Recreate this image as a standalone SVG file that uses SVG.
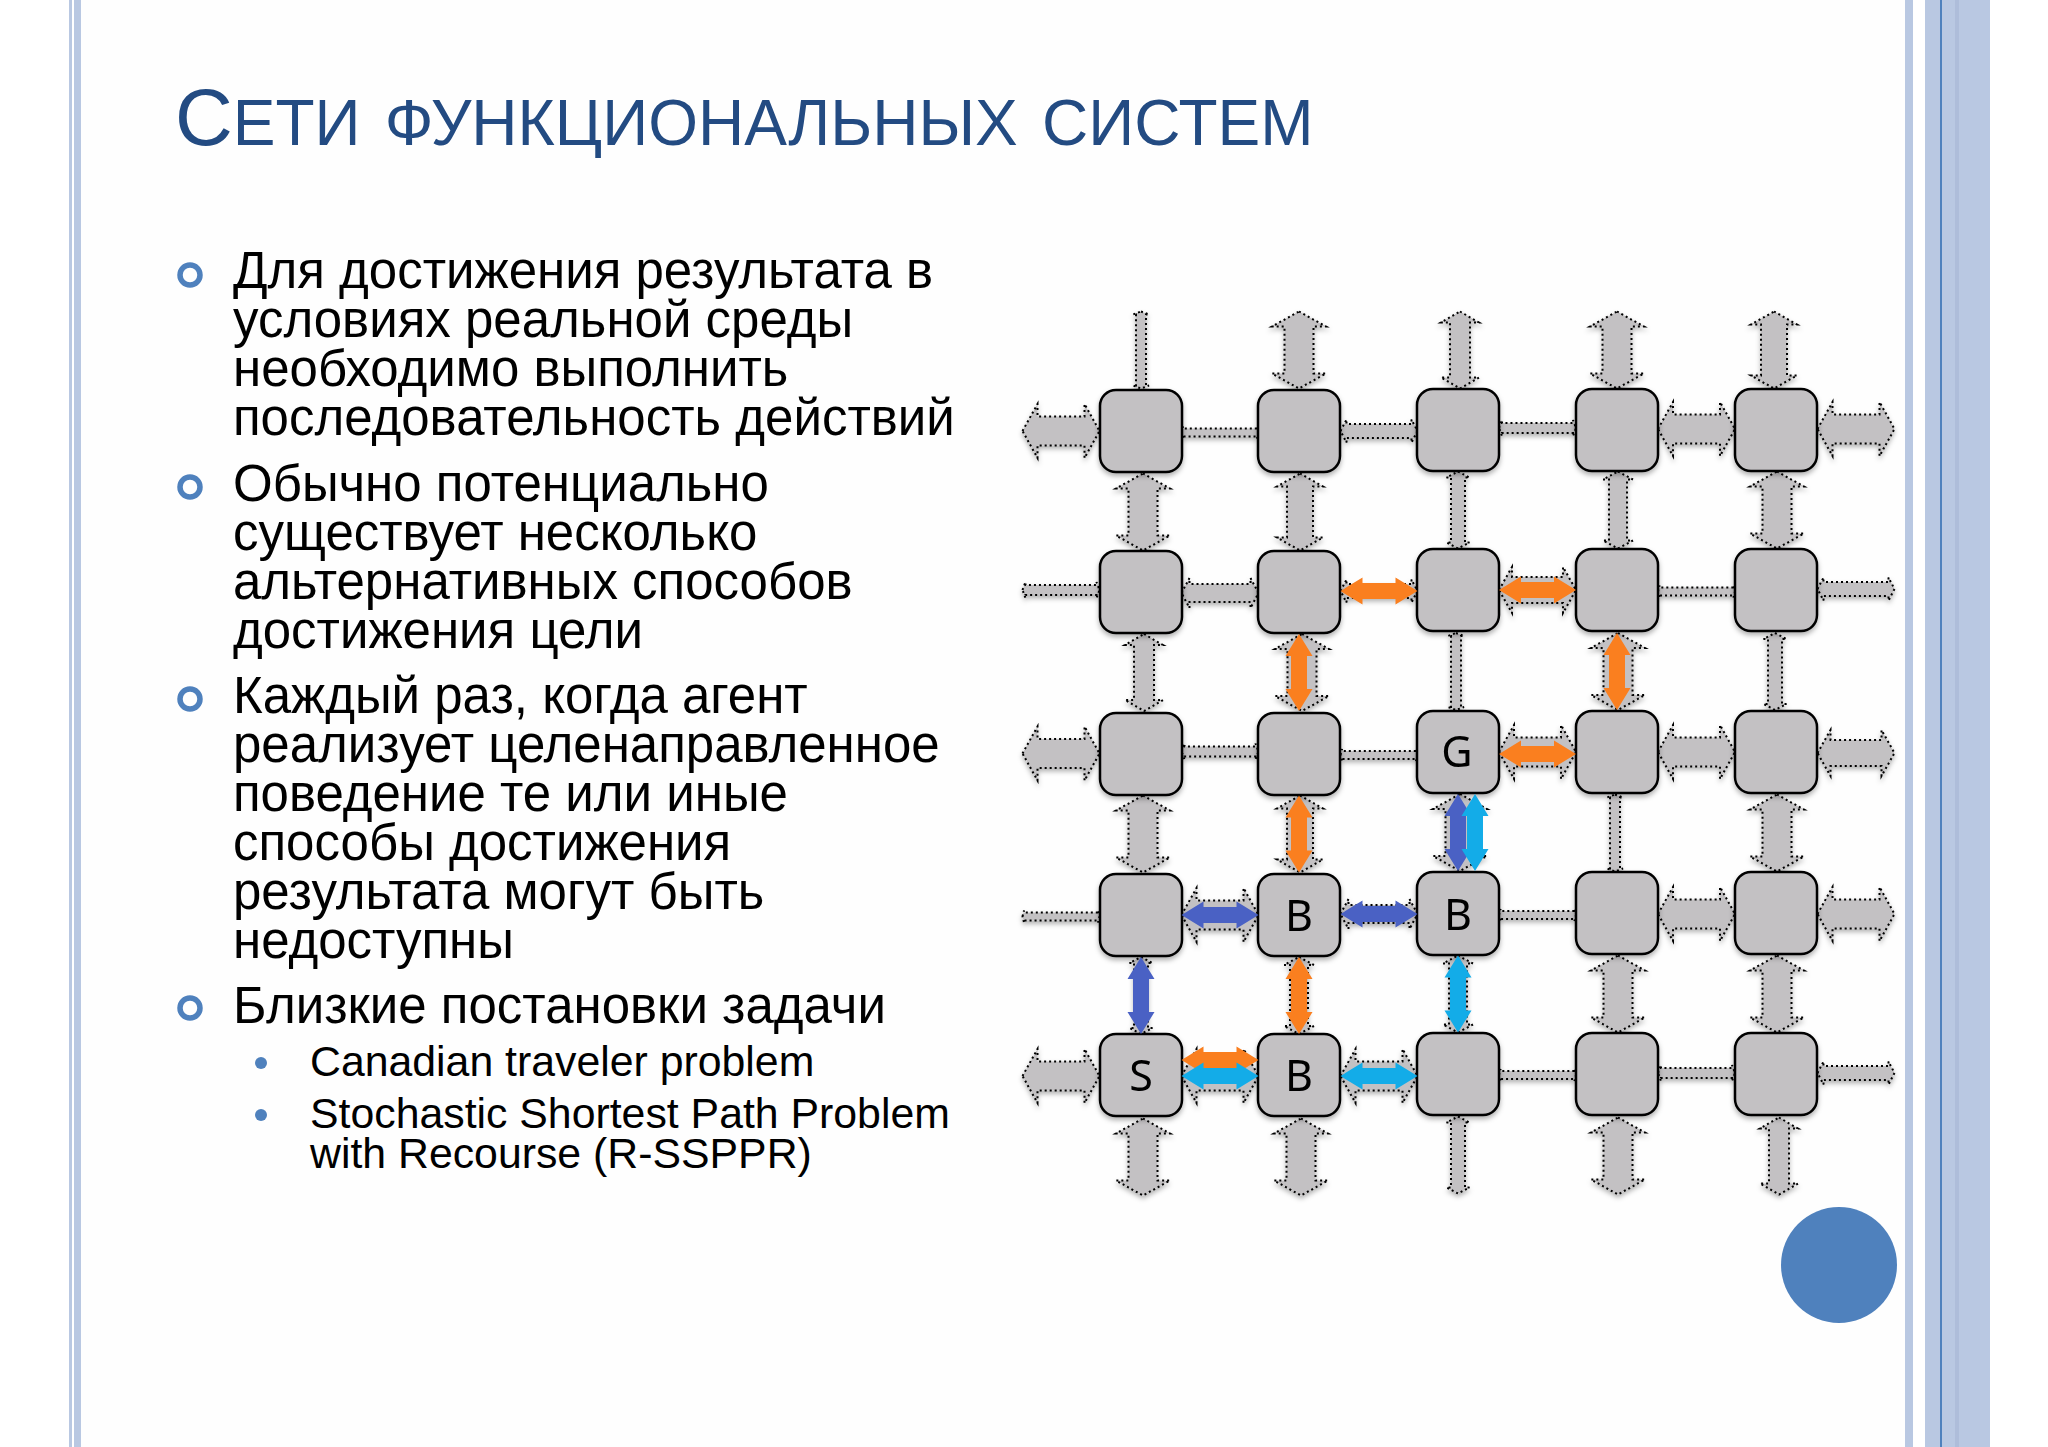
<svg xmlns="http://www.w3.org/2000/svg" xmlns:xlink="http://www.w3.org/1999/xlink" width="2048" height="1447" viewBox="0 0 2048 1447">
<style>
.bar{fill:#b9c8e2}
.title{font-family:"Liberation Sans",Arial,sans-serif;fill:#234b82;font-size:64px;word-spacing:6.5px}
.body{font-family:"Liberation Sans",Arial,sans-serif;fill:#000;font-size:51px}
.sub{font-family:"Liberation Sans",Arial,sans-serif;fill:#000;font-size:42.8px}
.ring{fill:none;stroke:#4f81bd;stroke-width:5.5}
.dot{fill:#4f81bd}
.node{fill:#c3c1c3;stroke:#000;stroke-width:2.5}
.lab{font-family:"Noto Sans",sans-serif;font-size:43px;fill:#000;text-anchor:middle}
.g{fill:#c3c1c3;stroke:#000;stroke-width:2;stroke-dasharray:2 3}
.o{fill:#fa7f1f}.b{fill:#4a61c4}.c{fill:#13ace8}
</style>
<defs>
<filter id="sh" x="-20%" y="-20%" width="140%" height="140%"><feDropShadow dx="0" dy="3" stdDeviation="2.5" flood-color="#000" flood-opacity=".3"/></filter>
<polygon id="A" points="-38.5,0 -23.5,-27 -23.5,-14.5 23.5,-14.5 23.5,-27 38.5,0 23.5,27 23.5,14.5 -23.5,14.5 -23.5,27"/>
<polygon id="F" points="-38.5,0 -25.5,-23 -25.5,-13 25.5,-13 25.5,-23 38.5,0 25.5,23 25.5,13 -25.5,13 -25.5,23"/>
<polygon id="D" points="-38.5,0 -27.5,-19 -27.5,-10 27.5,-10 27.5,-19 38.5,0 27.5,19 27.5,10 -27.5,10 -27.5,19"/>
<polygon id="G" points="-38.5,0 -30.5,-15 -30.5,-9 30.5,-9 30.5,-15 38.5,0 30.5,15 30.5,9 -30.5,9 -30.5,15"/>
<polygon id="B" points="-38.5,0 -32.5,-11.5 -32.5,-7 32.5,-7 32.5,-11.5 38.5,0 32.5,11.5 32.5,7 -32.5,7 -32.5,11.5"/>
<polygon id="E" points="-38.5,0 -35.5,-8 -35.5,-5 35.5,-5 35.5,-8 38.5,0 35.5,8 35.5,5 -35.5,5 -35.5,8"/>
<polygon id="C" points="-38.5,0 -37,-6 -37,-4 37,-4 37,-6 38.5,0 37,6 37,4 -37,4 -37,6"/>
<polygon id="K" points="-38.5,0 -16.5,-13.5 -16.5,-8 16.5,-8 16.5,-13.5 38.5,0 16.5,13.5 16.5,8 -16.5,8 -16.5,13.5"/>
</defs>
<rect width="2048" height="1447" fill="#fff"/>
<rect x="81" width="1824" height="1447" fill="#fefefe"/>
<g id="frame">
<rect class="bar" x="69" width="3" height="1447"/>
<rect class="bar" x="74" width="7" height="1447"/>
<rect class="bar" x="1905" width="8" height="1447"/>
<rect class="bar" x="1925" width="65" height="1447"/>
<rect x="1940" width="2" height="1447" fill="#4f81bd"/>
<rect x="1955" width="4" height="1447" fill="#aebdda"/>
</g>
<text id="title" class="title" x="175" y="145"><tspan font-size="80">С</tspan>ЕТИ ФУНКЦИОНАЛЬНЫХ СИСТЕМ</text>
<g id="bullets">
<circle class="ring" cx="190" cy="275" r="10"/>
<circle class="ring" cx="190" cy="487" r="10"/>
<circle class="ring" cx="190" cy="699" r="10"/>
<circle class="ring" cx="190" cy="1008" r="10"/>
<circle class="dot" cx="261" cy="1063" r="6"/>
<circle class="dot" cx="261" cy="1115" r="6"/>
</g>
<g id="body">
<text class="body" x="233" y="288">Для достижения результата в</text>
<text class="body" x="233" y="337">условиях реальной среды</text>
<text class="body" x="233" y="386">необходимо выполнить</text>
<text class="body" x="233" y="435">последовательность действий</text>
<text class="body" x="233" y="501">Обычно потенциально</text>
<text class="body" x="233" y="550">существует несколько</text>
<text class="body" x="233" y="599">альтернативных способов</text>
<text class="body" x="233" y="648">достижения цели</text>
<text class="body" x="233" y="713">Каждый раз, когда агент</text>
<text class="body" x="233" y="762">реализует целенаправленное</text>
<text class="body" x="233" y="811">поведение те или иные</text>
<text class="body" x="233" y="860">способы достижения</text>
<text class="body" x="233" y="909">результата могут быть</text>
<text class="body" x="233" y="958">недоступны</text>
<text class="body" x="233" y="1023">Близкие постановки задачи</text>
<text class="sub" x="310" y="1076">Canadian traveler problem</text>
<text class="sub" x="310" y="1128">Stochastic Shortest Path Problem</text>
<text class="sub" x="310" y="1168">with Recourse (R-SSPPR)</text>
</g>
<g id="connectors" transform="translate(0,1)">
<g filter="url(#sh)">
<use href="#E" class="g" transform="translate(1141,349) rotate(90)"/>
<use href="#A" class="g" transform="translate(1143,511) rotate(90)"/>
<use href="#D" class="g" transform="translate(1144,671.5) rotate(90)"/>
<use href="#A" class="g" transform="translate(1143,833) rotate(90)"/>
<use href="#B" class="g" transform="translate(1141,994.5) rotate(90)"/>
<use href="#A" class="g" transform="translate(1143,1156) rotate(90)"/>
<use href="#A" class="g" transform="translate(1299,349) rotate(90)"/>
<use href="#F" class="g" transform="translate(1300,511) rotate(90)"/>
<use href="#A" class="g" transform="translate(1302,671.5) rotate(90)"/>
<use href="#F" class="g" transform="translate(1300,833) rotate(90)"/>
<use href="#G" class="g" transform="translate(1299,994.5) rotate(90)"/>
<use href="#A" class="g" transform="translate(1301,1156) rotate(90)"/>
<use href="#D" class="g" transform="translate(1460,349) rotate(90)"/>
<use href="#B" class="g" transform="translate(1458,509) rotate(90)"/>
<use href="#E" class="g" transform="translate(1456,670.5) rotate(90)"/>
<use href="#A" class="g" transform="translate(1460,831.5) rotate(90)"/>
<use href="#G" class="g" transform="translate(1458,993) rotate(90)"/>
<use href="#B" class="g" transform="translate(1458,1154) rotate(90)"/>
<use href="#A" class="g" transform="translate(1617,349) rotate(90)"/>
<use href="#G" class="g" transform="translate(1618,509) rotate(90)"/>
<use href="#A" class="g" transform="translate(1618,670.5) rotate(90)"/>
<use href="#E" class="g" transform="translate(1615,832) rotate(90)"/>
<use href="#A" class="g" transform="translate(1618,993) rotate(90)"/>
<use href="#A" class="g" transform="translate(1618,1155) rotate(90)"/>
<use href="#F" class="g" transform="translate(1774,349) rotate(90)"/>
<use href="#A" class="g" transform="translate(1777,509) rotate(90)"/>
<use href="#B" class="g" transform="translate(1775,670.5) rotate(90)"/>
<use href="#A" class="g" transform="translate(1777,832) rotate(90)"/>
<use href="#A" class="g" transform="translate(1777,993) rotate(90)"/>
<use href="#D" class="g" transform="translate(1779,1155) rotate(90)"/>
<use href="#A" class="g" transform="translate(1061,430)"/>
<use href="#C" class="g" transform="translate(1220,431.5)"/>
<use href="#B" class="g" transform="translate(1379,430)"/>
<use href="#E" class="g" transform="translate(1537.5,427)"/>
<use href="#A" class="g" transform="translate(1696.5,428)"/>
<use href="#A" class="g" transform="translate(1856,428)"/>
<use href="#E" class="g" transform="translate(1061,589)"/>
<use href="#G" class="g" transform="translate(1220,592)"/>
<use href="#B" class="g" transform="translate(1379,590)"/>
<use href="#F" class="g" transform="translate(1537.5,589)"/>
<use href="#C" class="g" transform="translate(1696.5,590.5)"/>
<use href="#B" class="g" transform="translate(1856,588)"/>
<use href="#A" class="g" transform="translate(1061,752.5)"/>
<use href="#E" class="g" transform="translate(1220,750.5)"/>
<use href="#C" class="g" transform="translate(1379,754)"/>
<use href="#A" class="g" transform="translate(1537.5,751)"/>
<use href="#A" class="g" transform="translate(1696.5,751)"/>
<use href="#F" class="g" transform="translate(1856,752)"/>
<use href="#C" class="g" transform="translate(1061,915.5)"/>
<use href="#A" class="g" transform="translate(1220,914)"/>
<use href="#G" class="g" transform="translate(1379,913)"/>
<use href="#C" class="g" transform="translate(1537.5,914)"/>
<use href="#A" class="g" transform="translate(1696.5,913)"/>
<use href="#A" class="g" transform="translate(1856,913)"/>
<use href="#A" class="g" transform="translate(1061,1075)"/>
<use href="#A" class="g" transform="translate(1220,1075)"/>
<use href="#A" class="g" transform="translate(1379,1075)"/>
<use href="#C" class="g" transform="translate(1537.5,1074)"/>
<use href="#E" class="g" transform="translate(1696.5,1072)"/>
<use href="#B" class="g" transform="translate(1856,1072)"/>
</g>
</g>
<g id="nodes" filter="url(#sh)" transform="translate(0,1)">
<g id="n11"><rect class="node" x="1100" y="389" width="82" height="82" rx="16"/></g>
<g id="n12"><rect class="node" x="1258" y="389" width="82" height="82" rx="16"/></g>
<g id="n13"><rect class="node" x="1417" y="388" width="82" height="82" rx="16"/></g>
<g id="n14"><rect class="node" x="1576" y="388" width="82" height="82" rx="16"/></g>
<g id="n15"><rect class="node" x="1735" y="388" width="82" height="82" rx="16"/></g>
<g id="n21"><rect class="node" x="1100" y="550" width="82" height="82" rx="16"/></g>
<g id="n22"><rect class="node" x="1258" y="550" width="82" height="82" rx="16"/></g>
<g id="n23"><rect class="node" x="1417" y="548" width="82" height="82" rx="16"/></g>
<g id="n24"><rect class="node" x="1576" y="548" width="82" height="82" rx="16"/></g>
<g id="n25"><rect class="node" x="1735" y="548" width="82" height="82" rx="16"/></g>
<g id="n31"><rect class="node" x="1100" y="712" width="82" height="82" rx="16"/></g>
<g id="n32"><rect class="node" x="1258" y="712" width="82" height="82" rx="16"/></g>
<g id="n33"><rect class="node" x="1417" y="710" width="82" height="82" rx="16"/><text class="lab" x="1457" y="766">G</text></g>
<g id="n34"><rect class="node" x="1576" y="710" width="82" height="82" rx="16"/></g>
<g id="n35"><rect class="node" x="1735" y="710" width="82" height="82" rx="16"/></g>
<g id="n41"><rect class="node" x="1100" y="873" width="82" height="82" rx="16"/></g>
<g id="n42"><rect class="node" x="1258" y="873" width="82" height="82" rx="16"/><text class="lab" x="1299" y="930">B</text></g>
<g id="n43"><rect class="node" x="1417" y="871" width="82" height="83" rx="16"/><text class="lab" x="1458" y="929">B</text></g>
<g id="n44"><rect class="node" x="1576" y="871" width="82" height="82" rx="16"/></g>
<g id="n45"><rect class="node" x="1735" y="871" width="82" height="82" rx="16"/></g>
<g id="n51"><rect class="node" x="1100" y="1033" width="82" height="82" rx="16"/><text class="lab" x="1141" y="1090">S</text></g>
<g id="n52"><rect class="node" x="1258" y="1033" width="82" height="82" rx="16"/><text class="lab" x="1299" y="1090">B</text></g>
<g id="n53"><rect class="node" x="1417" y="1032" width="82" height="82" rx="16"/></g>
<g id="n54"><rect class="node" x="1576" y="1032" width="82" height="82" rx="16"/></g>
<g id="n55"><rect class="node" x="1735" y="1032" width="82" height="82" rx="16"/></g>
</g>
<g id="paths" transform="translate(0,1)">
<use href="#K" class="o" transform="translate(1379,590)"/>
<use href="#K" class="o" transform="translate(1537.5,589)"/>
<use href="#K" class="o" transform="translate(1537.5,753)"/>
<use href="#K" class="o" transform="translate(1220,1059)"/>
<use href="#K" class="o" transform="translate(1299,671.5) rotate(90)"/>
<use href="#K" class="o" transform="translate(1299,833) rotate(90)"/>
<use href="#K" class="o" transform="translate(1299,994.5) rotate(90)"/>
<use href="#K" class="o" transform="translate(1617,670.5) rotate(90)"/>
<use href="#K" class="b" transform="translate(1220,914)"/>
<use href="#K" class="b" transform="translate(1379,913)"/>
<use href="#K" class="b" transform="translate(1141,994.5) rotate(90)"/>
<use href="#K" class="b" transform="translate(1458,831.5) rotate(90)"/>
<use href="#K" class="c" transform="translate(1475,831.5) rotate(90)"/>
<use href="#K" class="c" transform="translate(1458,993) rotate(90)"/>
<use href="#K" class="c" transform="translate(1220,1075)"/>
<use href="#K" class="c" transform="translate(1379,1075)"/>
</g>
<circle id="disc" cx="1839" cy="1265" r="58" fill="#4f81bd"/>
</svg>
